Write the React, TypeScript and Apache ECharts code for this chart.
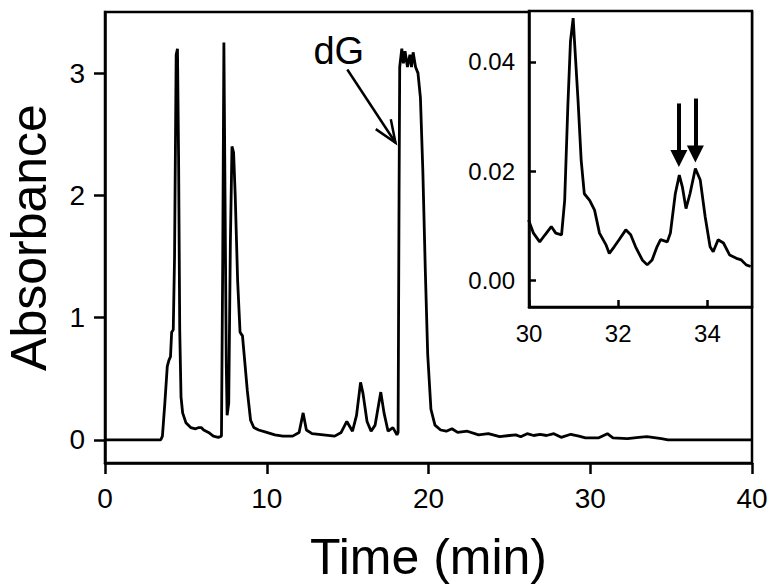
import React, { useEffect, useRef } from "react";
import * as echarts from "echarts";

const FONT = "Liberation Sans, Arial, Helvetica, sans-serif";

// Main chromatogram (time in min, absorbance)
const mainTime = [
  0, 1, 2, 3, 3.45, 3.55, 3.7, 3.85, 3.95, 4.05, 4.12, 4.22, 4.3, 4.4, 4.48, 4.55, 4.62, 4.7, 4.8, 5.0,
  5.3, 5.6, 5.8, 5.95, 6.1, 6.4, 6.7, 7.0, 7.2, 7.28, 7.35, 7.42, 7.5, 7.55, 7.65, 7.75, 7.85, 7.95, 8.05, 8.2,
  8.35, 8.5, 8.6, 8.8, 9.0, 9.2, 9.5, 10.0, 10.5, 11.0, 11.6, 12.0, 12.25, 12.45, 12.8, 13.5, 14.2, 14.6, 14.95, 15.3,
  15.55, 15.8, 15.95, 16.2, 16.45, 16.7, 17.05, 17.25, 17.5, 17.8, 18.05, 18.12, 18.18, 18.22, 18.35, 18.45, 18.55, 18.7, 18.85, 18.95,
  19.05, 19.2, 19.35, 19.5, 19.65, 19.8, 19.95, 20.15, 20.4, 20.75, 21.1, 21.45, 21.8, 22.4, 23.1, 23.7, 24.4, 25.0, 25.4, 25.7,
  26.1, 26.5, 26.9, 27.3, 27.75, 28.2, 28.8, 29.3, 29.7, 30.5, 31.06, 31.4, 32.3, 33.0, 33.5, 34.4, 34.8, 37, 40,
];
const mainAbs = [
  0, 0, 0, 0, 0, 0.03, 0.3, 0.6, 0.65, 0.68, 0.88, 0.9, 1.5, 3.15, 3.2, 2.3, 0.9, 0.35, 0.22, 0.14,
  0.1, 0.09, 0.1, 0.1, 0.08, 0.06, 0.03, 0.02, 0.03, 1.5, 3.25, 2.0, 0.6, 0.2, 0.3, 1.6, 2.4, 2.35, 2.0, 1.3,
  0.88, 0.85, 0.7, 0.4, 0.16, 0.1, 0.08, 0.06, 0.04, 0.03, 0.03, 0.06, 0.22, 0.08, 0.05, 0.04, 0.03, 0.06, 0.15, 0.07,
  0.2, 0.47, 0.38, 0.15, 0.07, 0.12, 0.39, 0.22, 0.07, 0.1, 0.04, 0.06, 2.0, 3.05, 3.2, 3.08, 3.18, 3.05, 3.15, 3.05,
  3.17, 3.05, 3.0, 2.8, 2.2, 1.4, 0.7, 0.25, 0.12, 0.08, 0.07, 0.09, 0.06, 0.07, 0.04, 0.05, 0.025, 0.035, 0.04, 0.025,
  0.05, 0.035, 0.045, 0.035, 0.05, 0.02, 0.045, 0.03, 0.015, 0.015, 0.05, 0.015, 0.01, 0.02, 0.025, 0.01, 0, 0, 0,
];

// Inset (30-35 min zoom)
const insetTime = [
  29.99, 30.1, 30.24, 30.36, 30.5, 30.6, 30.73, 30.8, 30.87, 30.93, 30.99, 31.02, 31.1, 31.17, 31.24, 31.36, 31.47, 31.58, 31.73, 31.8,
  31.91, 32.02, 32.17, 32.28, 32.39, 32.54, 32.65, 32.76, 32.87, 32.95, 33.1, 33.17, 33.28, 33.37, 33.44, 33.52, 33.61, 33.73, 33.84, 33.95,
  34.06, 34.13, 34.24, 34.36, 34.5, 34.65, 34.76, 34.87, 34.97,
];
const insetAbs = [
  0.0111, 0.0087, 0.0071, 0.0084, 0.0099, 0.0087, 0.0084, 0.0147, 0.0317, 0.0438, 0.048, 0.0438, 0.0329, 0.022, 0.0159, 0.0147, 0.0129, 0.0087, 0.0065, 0.005,
  0.0062, 0.0075, 0.0093, 0.0084, 0.0062, 0.0038, 0.0029, 0.0038, 0.0062, 0.0075, 0.0071, 0.0087, 0.0159, 0.0193, 0.0171, 0.0132, 0.0159, 0.0205, 0.0184, 0.0117,
  0.0062, 0.0053, 0.0075, 0.0069, 0.0047, 0.0041, 0.0038, 0.0029, 0.0026,
];

const mainXTicks = [0, 10, 20, 30, 40];
const mainYTicks = [0, 1, 2, 3];
const insetXTicks = [30, 32, 34];
const insetYTicks = [0, 0.02, 0.04];

// Inset arrows (time, tail value, tip value)
const insetArrowTimes = [33.36, 33.73];
const insetArrowTails = [0.0324, 0.0333];
const insetArrowTips = [0.0207, 0.0215];

// dG annotation (data coordinates)
const dgLabel = "dG";
const dgLabelAt = [14.45, 3.18];
const dgArrowTail = [14.98, 3.03];
const dgArrowTip = [17.96, 2.43];

export default function App() {
  const ref = useRef<HTMLDivElement>(null);
  useEffect(() => {
    const chart = echarts.init(ref.current!, null, { renderer: "svg" });
    const black = "#000";
    const insetPx = 296 / (0.0493 + 0.0048);
    const headOffset = 9 / insetPx;
    chart.setOption({
      animation: false,
      backgroundColor: "#fff",
      textStyle: { fontFamily: FONT },
      grid: [
        { left: 105, top: 12, width: 647, height: 451, show: true, borderColor: black, borderWidth: 2.5, backgroundColor: "transparent", containLabel: false, outerBoundsMode: "none" },
        { left: 529, top: 11, width: 223, height: 296, show: true, borderColor: black, borderWidth: 2.5, backgroundColor: "#fff", z: 5, containLabel: false, outerBoundsMode: "none" },
      ],
      xAxis: [
        {
          gridIndex: 0, type: "value", min: 0, max: 40, interval: 10,
          axisLine: { show: true, onZero: false, lineStyle: { color: black, width: 2.5 } },
          axisTick: { show: true, inside: false, length: 11, lineStyle: { color: black, width: 2.5 }, customValues: mainXTicks },
          axisLabel: { color: black, fontSize: 28, margin: 21, fontFamily: FONT, customValues: mainXTicks },
          splitLine: { show: false },
          name: "Time (min)", nameLocation: "middle", nameGap: 69,
          nameTextStyle: { fontSize: 50, color: black, fontFamily: FONT },
        },
        {
          gridIndex: 1, type: "value", min: 30, max: 35,
          axisLine: { show: true, onZero: false, lineStyle: { color: black, width: 2.5 } },
          axisTick: { show: true, inside: true, length: 7, lineStyle: { color: black, width: 2.5 }, customValues: insetXTicks },
          axisLabel: { color: black, fontSize: 24, margin: 14, fontFamily: FONT, customValues: insetXTicks },
          splitLine: { show: false },
          z: 6,
        },
      ],
      yAxis: [
        {
          gridIndex: 0, type: "value", min: -0.19, max: 3.5,
          axisLine: { show: true, onZero: false, lineStyle: { color: black, width: 2.5 } },
          axisTick: { show: true, inside: false, length: 11, lineStyle: { color: black, width: 2.5 }, customValues: mainYTicks },
          axisLabel: { color: black, fontSize: 28, margin: 20, fontFamily: FONT, customValues: mainYTicks },
          splitLine: { show: false },
          name: "Absorbance", nameLocation: "middle", nameGap: 51,
          nameTextStyle: { fontSize: 50, color: black, fontFamily: FONT },
        },
        {
          gridIndex: 1, type: "value", min: -0.0048, max: 0.0493,
          axisLine: { show: true, onZero: false, lineStyle: { color: black, width: 2.5 } },
          axisTick: { show: true, inside: true, length: 7, lineStyle: { color: black, width: 2.5 }, customValues: insetYTicks },
          axisLabel: { color: black, fontSize: 24, margin: 14, fontFamily: FONT, customValues: insetYTicks, formatter: (v: number) => v.toFixed(2) },
          splitLine: { show: false },
          z: 6,
        },
      ],
      series: [
        {
          type: "line", xAxisIndex: 0, yAxisIndex: 0,
          data: mainTime.map((t, i) => [t, mainAbs[i]]),
          showSymbol: false, symbol: "none",
          lineStyle: { color: black, width: 2.8 },
          z: 3,
        },
        {
          type: "line", xAxisIndex: 1, yAxisIndex: 1,
          data: insetTime.map((t, i) => [t, insetAbs[i]]),
          showSymbol: false, symbol: "none",
          lineStyle: { color: black, width: 2.8 },
          z: 7,
          markLine: {
            silent: true,
            symbol: ["none", "triangle"],
            symbolSize: 17,
            label: { show: false },
            lineStyle: { color: black, width: 4, type: "solid" },
            data: insetArrowTimes.map((t, i) => [
              { coord: [t, insetArrowTails[i]] },
              { coord: [t, insetArrowTips[i] + headOffset] },
            ]),
          },
        },
      ],
    });

    const tail = chart.convertToPixel({ gridIndex: 0 }, dgArrowTail) as number[];
    const tip = chart.convertToPixel({ gridIndex: 0 }, dgArrowTip) as number[];
    const lab = chart.convertToPixel({ gridIndex: 0 }, dgLabelAt) as number[];
    const dx = tip[0] - tail[0];
    const dy = tip[1] - tail[1];
    const len = Math.sqrt(dx * dx + dy * dy);
    const ux = dx / len, uy = dy / len;
    const hl = 24, ang = (22 * Math.PI) / 180;
    const rot = (a: number) => [ux * Math.cos(a) - uy * Math.sin(a), ux * Math.sin(a) + uy * Math.cos(a)];
    const r1 = rot(ang), r2 = rot(-ang);
    chart.setOption({
      graphic: [
        { type: "line", shape: { x1: tail[0], y1: tail[1], x2: tip[0], y2: tip[1] }, style: { stroke: black, lineWidth: 2.5 }, z: 10 },
        {
          type: "polyline",
          shape: { points: [[tip[0] - r1[0] * hl, tip[1] - r1[1] * hl], [tip[0], tip[1]], [tip[0] - r2[0] * hl, tip[1] - r2[1] * hl]] },
          style: { stroke: black, lineWidth: 2.5, fill: "none" },
          z: 10,
        },
        {
          type: "text", x: lab[0], y: lab[1],
          style: { text: dgLabel, fontSize: 38, fontFamily: FONT, fill: black, align: "center", verticalAlign: "middle" },
          z: 10,
        },
      ],
    });
    return () => chart.dispose();
  }, []);
  return <div ref={ref} style={{ position: "fixed", left: 0, top: 0, width: 774, height: 588 }} />;
}
